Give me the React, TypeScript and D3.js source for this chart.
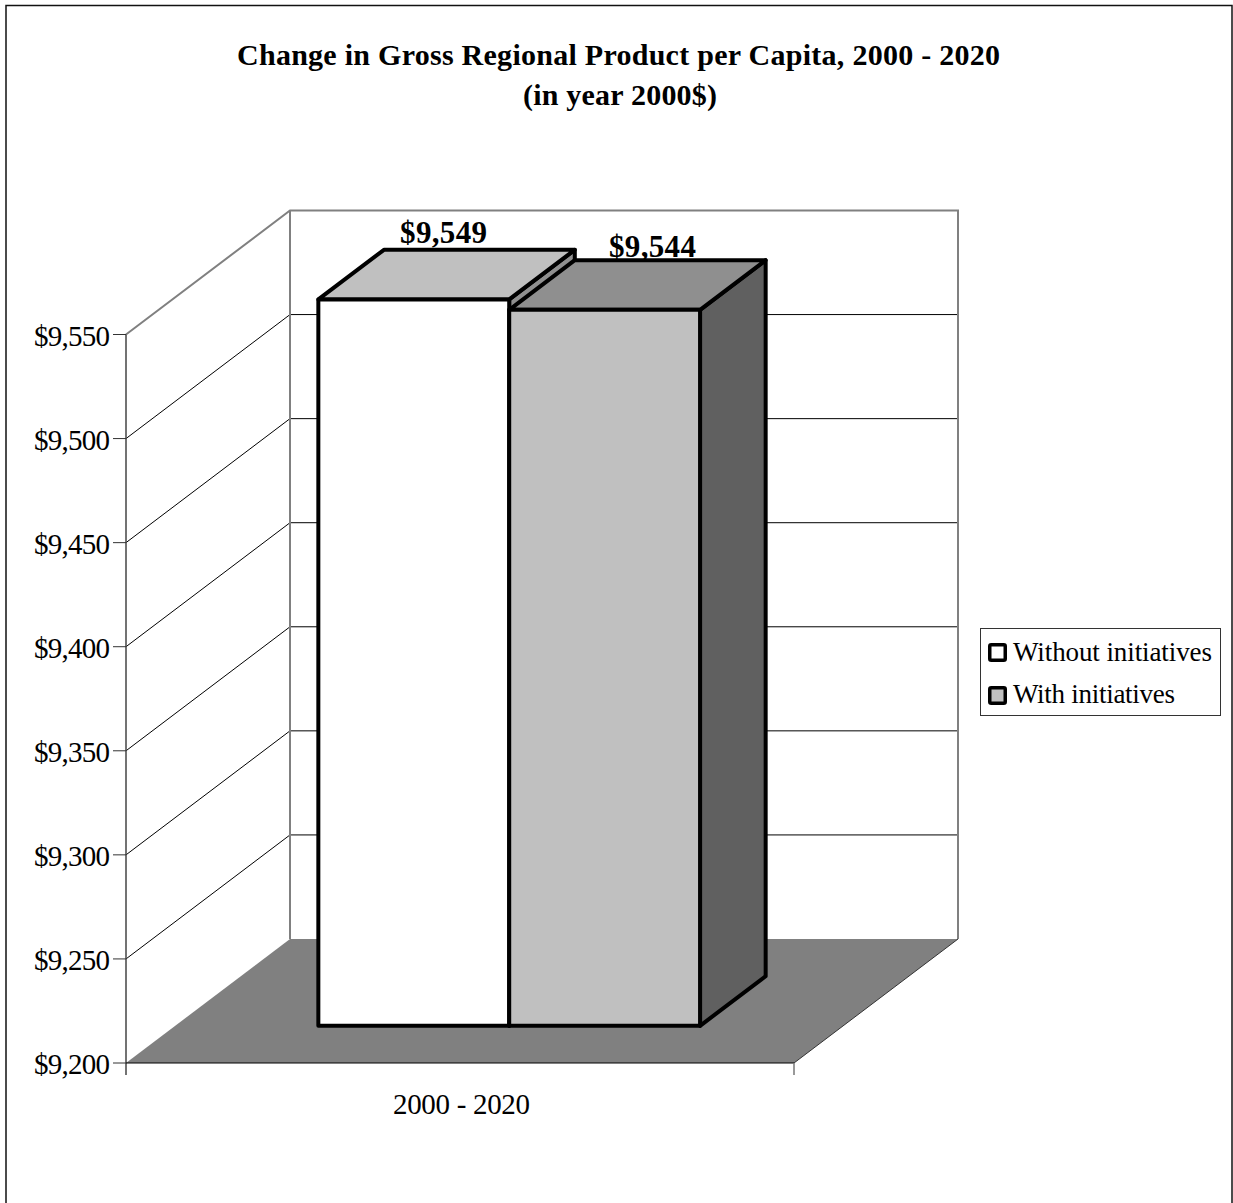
import React from "react";
import * as d3 from "d3";

const categories = ["2000 - 2020"];
const seriesNames = ["Without initiatives", "With initiatives"];
const seriesValues = [9549, 9544];
const valueLabels = ["$9,549", "$9,544"];
const yTicks = [9200, 9250, 9300, 9350, 9400, 9450, 9500, 9550];
const titleLines = ["Change in Gross Regional Product per Capita, 2000 - 2020", "(in year 2000$)"];

const faces = [
  { front: "#ffffff", top: "#c0c0c0", side: "#8f8f8f" },
  { front: "#c0c0c0", top: "#8f8f8f", side: "#606060" },
];

const FONT = "'Liberation Serif', serif";
const plot = { left: 126, right: 794, bottom: 1063, top: 334.5 };
const depth = { dx: 164, dy: -124 };
const gapDepth = 0.3;
const barDepth = 0.4;

const y = d3.scaleLinear().domain([9200, 9550]).range([plot.bottom, plot.top]);
const x0 = d3.scaleBand().domain(categories).range([plot.left, plot.right]);
const x1 = d3.scaleBand().domain(seriesNames).range([0, x0.bandwidth()]).paddingOuter(0.75).paddingInner(0);

const poly = (pts: number[][]) => pts.map((p) => p.join(",")).join(" ");

export default function App() {
  const yBase = y(9200);
  const backDx = depth.dx;
  const backDy = depth.dy;
  const frontDx = depth.dx * gapDepth;
  const frontDy = depth.dy * gapDepth;
  const barDx = depth.dx * barDepth;
  const barDy = depth.dy * barDepth;

  return (
    <svg
      width={1233}
      height={1203}
      viewBox="0 0 1233 1203"
      style={{ position: "absolute", left: 0, top: 0, display: "block", fontFamily: FONT }}
    >
      <rect x={0} y={0} width={1233} height={1203} fill="#ffffff" />
      <rect x={6} y={5.5} width={1226} height={1220} fill="none" stroke="#111" strokeWidth={1.5} />

      <text x={618.5} y={65} textAnchor="middle" fontSize={30} fontWeight="bold" fill="#000" textLength={763}>
        {titleLines[0]}
      </text>
      <text x={620} y={105} textAnchor="middle" fontSize={30} fontWeight="bold" fill="#000" textLength={194}>
        {titleLines[1]}
      </text>

      {/* floor */}
      <polygon
        fill="#808080"
        points={poly([
          [plot.left, yBase],
          [plot.right, yBase],
          [plot.right + backDx, yBase + backDy],
          [plot.left + backDx, yBase + backDy],
        ])}
      />

      {/* gridlines across side and back walls */}
      {yTicks.slice(1, -1).map((t) => (
        <polyline
          key={t}
          fill="none"
          stroke="#000"
          strokeWidth={1}
          points={poly([
            [plot.left, y(t)],
            [plot.left + backDx, y(t) + backDy],
            [plot.right + backDx, y(t) + backDy],
          ])}
        />
      ))}

      {/* wall outlines */}
      <polyline
        fill="none"
        stroke="#808080"
        strokeWidth={2}
        points={poly([
          [plot.left, y(9550)],
          [plot.left + backDx, y(9550) + backDy],
          [plot.right + backDx, y(9550) + backDy],
          [plot.right + backDx, yBase + backDy],
        ])}
      />
      <line
        x1={plot.left + backDx}
        x2={plot.left + backDx}
        y1={y(9550) + backDy}
        y2={yBase + backDy}
        stroke="#808080"
        strokeWidth={2}
      />
      <line x1={plot.left} x2={plot.left} y1={y(9550)} y2={yBase + 12} stroke="#444" strokeWidth={1.5} />
      <line x1={plot.left} x2={plot.right} y1={yBase} y2={yBase} stroke="#000" strokeWidth={1} />
      <line x1={plot.right} x2={plot.right + backDx} y1={yBase} y2={yBase + backDy} stroke="#333" strokeWidth={1} />
      <line x1={plot.right} x2={plot.right} y1={yBase} y2={yBase + 12} stroke="#777" strokeWidth={1.5} />

      {/* value axis */}
      {yTicks.map((t) => (
        <g key={t}>
          <line x1={plot.left - 13} x2={plot.left} y1={y(t)} y2={y(t)} stroke="#333" strokeWidth={1} />
          <text x={110} y={y(t) + 11} textAnchor="end" fontSize={29} fill="#000" textLength={76}>
            {d3.format("$,")(t)}
          </text>
        </g>
      ))}

      {/* columns, left one first so the right one overlaps it */}
      {seriesNames.map((name, i) => {
        const bx = plot.left + x1(name)! + frontDx;
        const bw = x1.bandwidth();
        const by = yBase + frontDy;
        const ty = y(seriesValues[i]) + frontDy;
        const f = faces[i];
        return (
          <g key={name} stroke="#000" strokeWidth={4} strokeLinejoin="round">
            <polygon
              fill={f.side}
              points={poly([
                [bx + bw, ty],
                [bx + bw + barDx, ty + barDy],
                [bx + bw + barDx, by + barDy],
                [bx + bw, by],
              ])}
            />
            <polygon
              fill={f.top}
              points={poly([
                [bx, ty],
                [bx + barDx, ty + barDy],
                [bx + bw + barDx, ty + barDy],
                [bx + bw, ty],
              ])}
            />
            <rect x={bx} y={ty} width={bw} height={by - ty} fill={f.front} />
          </g>
        );
      })}

      {/* value labels above each column */}
      {seriesNames.map((name, i) => (
        <text
          key={name}
          x={plot.left + x1(name)! + frontDx + x1.bandwidth() / 2 + barDx / 2 + (i === 0 ? -3 : 15)}
          y={y(seriesValues[i]) + frontDy + barDy + (i === 0 ? -7 : -3)}
          textAnchor="middle"
          fontSize={31}
          fontWeight="bold"
          fill="#000"
          textLength={87}
        >
          {valueLabels[i]}
        </text>
      ))}

      <text x={461.5} y={1114} textAnchor="middle" fontSize={29} fill="#000" textLength={137}>
        {categories[0]}
      </text>

      {/* legend */}
      <rect x={980.5} y={628.5} width={240} height={87} fill="#fff" stroke="#333" strokeWidth={1} />
      {seriesNames.map((name, i) => (
        <g key={name}>
          <rect
            x={989.75}
            y={644.75 + i * 43}
            width={15.5}
            height={15.5}
            rx={1.5}
            fill={faces[i].front}
            stroke="#000"
            strokeWidth={3.5}
          />
          <text x={1013} y={660.5 + i * 42.7} fontSize={27} fill="#000" textLength={i === 0 ? 199 : 162}>
            {name}
          </text>
        </g>
      ))}
    </svg>
  );
}
